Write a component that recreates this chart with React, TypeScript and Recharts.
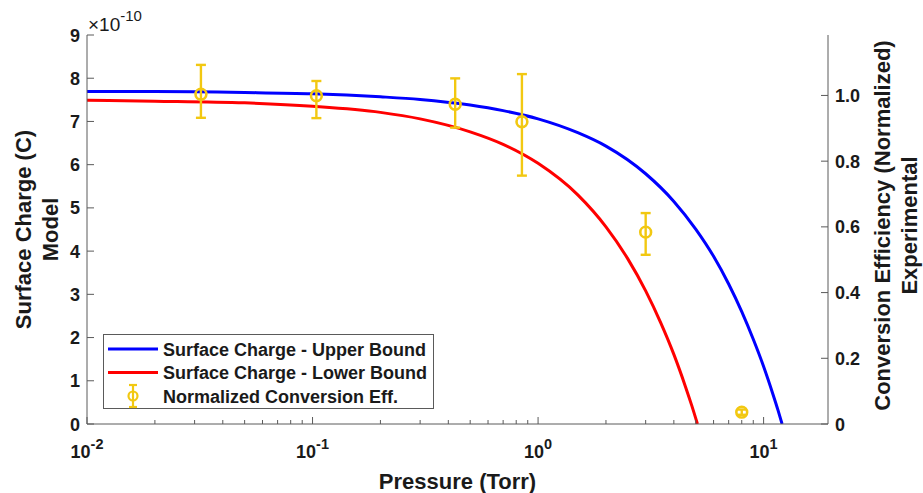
import React from 'react';
import { ComposedChart, Line, Scatter, XAxis, YAxis, ErrorBar, Legend, Label } from 'recharts';

// Model curves (surface charge in units of 1e-10 C) vs pressure (Torr)
const upperPressure = [0.01, 0.02, 0.05, 0.1, 0.2, 0.3, 0.5, 0.7, 1, 1.5, 2, 3, 4, 5, 6, 7, 8, 9, 10, 11, 11.6, 12.08];
const upperCharge = [7.69, 7.69, 7.67, 7.64, 7.57, 7.51, 7.38, 7.25, 7.06, 6.74, 6.43, 5.79, 5.15, 4.51, 3.88, 3.24, 2.6, 1.96, 1.33, 0.69, 0.31, 0];
const lowerPressure = [0.01, 0.02, 0.05, 0.1, 0.2, 0.3, 0.5, 0.7, 1, 1.5, 2, 2.5, 3, 3.5, 4, 4.5, 4.8, 5.09];
const lowerCharge = [7.49, 7.47, 7.43, 7.35, 7.21, 7.06, 6.76, 6.47, 6.03, 5.3, 4.56, 3.82, 3.08, 2.34, 1.61, 0.87, 0.43, 0];

// Experimental normalized conversion efficiency
const expPressure = [0.032, 0.104, 0.429, 0.848, 3.0, 8.0];
const expEfficiency = [1.004, 0.999, 0.973, 0.92, 0.584, 0.036];
const expErrLow = [0.072, 0.068, 0.071, 0.164, 0.069, 0.008];
const expErrHigh = [0.089, 0.045, 0.079, 0.145, 0.058, 0.008];

// Ticks
const xMajorTicks = [0.01, 0.1, 1, 10];
const xMinorTicks = [0.02, 0.03, 0.04, 0.05, 0.06, 0.07, 0.08, 0.09, 0.2, 0.3, 0.4, 0.5, 0.6, 0.7, 0.8, 0.9, 2, 3, 4, 5, 6, 7, 8, 9];
const leftTicks = [0, 1, 2, 3, 4, 5, 6, 7, 8, 9];
const rightTicks = [0, 0.2, 0.4, 0.6, 0.8, 1.0];

const upperData = upperPressure.map((p, i) => ({ p, q: upperCharge[i] }));
const lowerData = lowerPressure.map((p, i) => ({ p, q: lowerCharge[i] }));
const expData = expPressure.map((p, i) => ({ p, eff: expEfficiency[i], err: [expErrLow[i], expErrHigh[i]] }));
const xTicks = [...xMajorTicks, ...xMinorTicks].sort((a, b) => a - b);

const FONT = '"Liberation Sans", Arial, Helvetica, sans-serif';
const AXIS = '#5a5a5a';
const TEXT = '#1a1a1a';
const GOLD = '#F2C811';
const BLUE = '#0000FF';
const RED = '#FF0000';

const isMajor = (v: number) => xMajorTicks.some((m) => Math.abs(m - v) < 1e-9);

const BottomTick = (props: any) => {
  const { x, y, payload } = props;
  const v = payload.value;
  const major = isMajor(v);
  return (
    <g>
      <line x1={x} y1={y} x2={x} y2={y - (major ? 7 : 4)} stroke={AXIS} strokeWidth={1} />
      {major && (
        <text x={x} y={y + 34} textAnchor="middle" fontSize={18} fontWeight="bold" fill={TEXT} fontFamily={FONT}>
          10
          <tspan dy={-9} fontSize={14.5}>{String(Math.round(Math.log10(v)))}</tspan>
        </text>
      )}
    </g>
  );
};

const TopTick = (props: any) => {
  const { x, y, payload } = props;
  const major = isMajor(payload.value);
  return <line x1={x} y1={y} x2={x} y2={y + (major ? 7 : 4)} stroke={AXIS} strokeWidth={1} />;
};

const LeftTick = (props: any) => {
  const { x, y, payload } = props;
  return (
    <g>
      <line x1={x} y1={y} x2={x + 7} y2={y} stroke={AXIS} strokeWidth={1} />
      <text x={x - 7} y={y + 6.5} textAnchor="end" fontSize={18} fontWeight="bold" fill={TEXT} fontFamily={FONT}>
        {String(payload.value)}
      </text>
    </g>
  );
};

const RightTick = (props: any) => {
  const { x, y, payload } = props;
  const v = payload.value;
  return (
    <g>
      <line x1={x} y1={y} x2={x - 7} y2={y} stroke={AXIS} strokeWidth={1} />
      <text x={x + 7} y={y + 6.5} textAnchor="start" fontSize={18} fontWeight="bold" fill={TEXT} fontFamily={FONT}>
        {v === 0 ? '0' : v.toFixed(1)}
      </text>
    </g>
  );
};

const rotText = (cx: number, cy: number, s: string, key: string) => (
  <text
    key={key}
    x={cx}
    y={cy}
    transform={`rotate(-90 ${cx} ${cy})`}
    textAnchor="middle"
    dominantBaseline="central"
    fontSize={22}
    fontWeight="bold"
    fill={TEXT}
    fontFamily={FONT}
  >
    {s}
  </text>
);

const LeftLabel = (props: any) => {
  const vb = props.viewBox || { x: 0, y: 35, width: 87, height: 389 };
  const cy = vb.y + vb.height / 2;
  const ax = vb.x + vb.width;
  return (
    <g>
      {rotText(ax - 64, cy, 'Surface Charge (C)', 'a')}
      {rotText(ax - 37, cy, 'Model', 'b')}
      <text x={ax + 1} y={vb.y - 4} fontSize={19} fill={TEXT} fontFamily={FONT}>
        ×10
        <tspan dy={-10} fontSize={15}>-10</tspan>
      </text>
    </g>
  );
};

const RightLabel = (props: any) => {
  const vb = props.viewBox || { x: 828, y: 35, width: 95, height: 389 };
  const cy = vb.y + vb.height / 2 - 4;
  return (
    <g>
      {rotText(vb.x + 54, cy, 'Conversion Efficiency (Normalized)', 'a')}
      {rotText(vb.x + 81, cy, 'Experimental', 'b')}
    </g>
  );
};

const BottomLabel = (props: any) => {
  const vb = props.viewBox || { x: 87, y: 424, width: 741, height: 69 };
  return (
    <text x={vb.x + vb.width / 2} y={vb.y + 65} textAnchor="middle" fontSize={22} fontWeight="bold" fill={TEXT} fontFamily={FONT}>
      Pressure (Torr)
    </text>
  );
};

const LegendBox = () => {
  const rows = ['Surface Charge - Upper Bound', 'Surface Charge - Lower Bound', 'Normalized Conversion Eff.'];
  const ys = [15, 38.5, 62];
  return (
    <svg width={331} height={75} style={{ display: 'block' }}>
      <rect x={0.5} y={0.5} width={330} height={74} fill="#fff" stroke={AXIS} strokeWidth={1} />
      <line x1={5} y1={ys[0]} x2={55} y2={ys[0]} stroke={BLUE} strokeWidth={3} />
      <line x1={5} y1={ys[1]} x2={55} y2={ys[1]} stroke={RED} strokeWidth={3} />
      <g stroke={GOLD} strokeWidth={2.2} fill="none">
        <line x1={30} y1={ys[2] - 11} x2={30} y2={ys[2] + 11} />
        <line x1={26} y1={ys[2] - 11} x2={34} y2={ys[2] - 11} />
        <line x1={26} y1={ys[2] + 11} x2={34} y2={ys[2] + 11} />
        <circle cx={30} cy={ys[2]} r={4.5} />
      </g>
      {rows.map((r, i) => (
        <text key={r} x={60} y={ys[i] + 6.5} fontSize={18} fontWeight="bold" fill={TEXT} fontFamily={FONT}>
          {r}
        </text>
      ))}
    </svg>
  );
};

const ExpDot = (props: any) => {
  const { cx, cy } = props;
  if (cx == null || cy == null) return null;
  return <circle cx={cx} cy={cy} r={5.4} fill="none" stroke={GOLD} strokeWidth={2.6} />;
};

export default function App() {
  return (
    <div style={{ position: 'absolute', left: 0, top: 0, background: '#fff', fontFamily: FONT }}>
      <ComposedChart width={923} height={493} margin={{ top: 35, right: 0, bottom: 0, left: 0 }}>
        <XAxis
          xAxisId="bottom"
          dataKey="p"
          type="number"
          scale="log"
          domain={[0.01, 19.3]}
          allowDataOverflow
          ticks={xTicks}
          interval={0}
          tick={<BottomTick />}
          tickLine={false}
          tickSize={0}
          tickMargin={0}
          height={69}
          axisLine={{ stroke: AXIS, strokeWidth: 1 }}
        >
          <Label content={<BottomLabel />} />
        </XAxis>
        <XAxis
          xAxisId="top"
          orientation="top"
          dataKey="p"
          type="number"
          scale="log"
          domain={[0.01, 19.3]}
          allowDataOverflow
          ticks={xTicks}
          interval={0}
          tick={<TopTick />}
          tickLine={false}
          tickSize={0}
          tickMargin={0}
          height={0}
          axisLine={{ stroke: AXIS, strokeWidth: 1 }}
        />
        <YAxis
          yAxisId="left"
          type="number"
          domain={[0, 9]}
          allowDataOverflow
          ticks={leftTicks}
          interval={0}
          tick={<LeftTick />}
          tickLine={false}
          tickSize={0}
          tickMargin={0}
          width={87}
          axisLine={{ stroke: AXIS, strokeWidth: 1 }}
        >
          <Label content={<LeftLabel />} />
        </YAxis>
        <YAxis
          yAxisId="right"
          orientation="right"
          type="number"
          domain={[0, 1.184]}
          allowDataOverflow
          ticks={rightTicks}
          interval={0}
          tick={<RightTick />}
          tickLine={false}
          tickSize={0}
          tickMargin={0}
          width={95}
          axisLine={{ stroke: AXIS, strokeWidth: 1 }}
        >
          <Label content={<RightLabel />} />
        </YAxis>
        <Line
          xAxisId="bottom"
          yAxisId="left"
          data={upperData}
          dataKey="q"
          type="monotone"
          stroke={BLUE}
          strokeWidth={3}
          dot={false}
          activeDot={false}
          isAnimationActive={false}
        />
        <Line
          xAxisId="bottom"
          yAxisId="left"
          data={lowerData}
          dataKey="q"
          type="monotone"
          stroke={RED}
          strokeWidth={3}
          dot={false}
          activeDot={false}
          isAnimationActive={false}
        />
        <Scatter
          xAxisId="bottom"
          yAxisId="right"
          data={expData}
          dataKey="eff"
          fill={GOLD}
          shape={<ExpDot />}
          isAnimationActive={false}
        >
          <ErrorBar dataKey="err" direction="y" width={5} stroke={GOLD} strokeWidth={2.4} isAnimationActive={false} />
        </Scatter>
        <Legend
          layout="vertical"
          align="center"
          verticalAlign="middle"
          content={<LegendBox />}
          wrapperStyle={{ position: 'absolute', left: 103, top: 334, width: 331, height: 75 }}
        />
      </ComposedChart>
    </div>
  );
}
